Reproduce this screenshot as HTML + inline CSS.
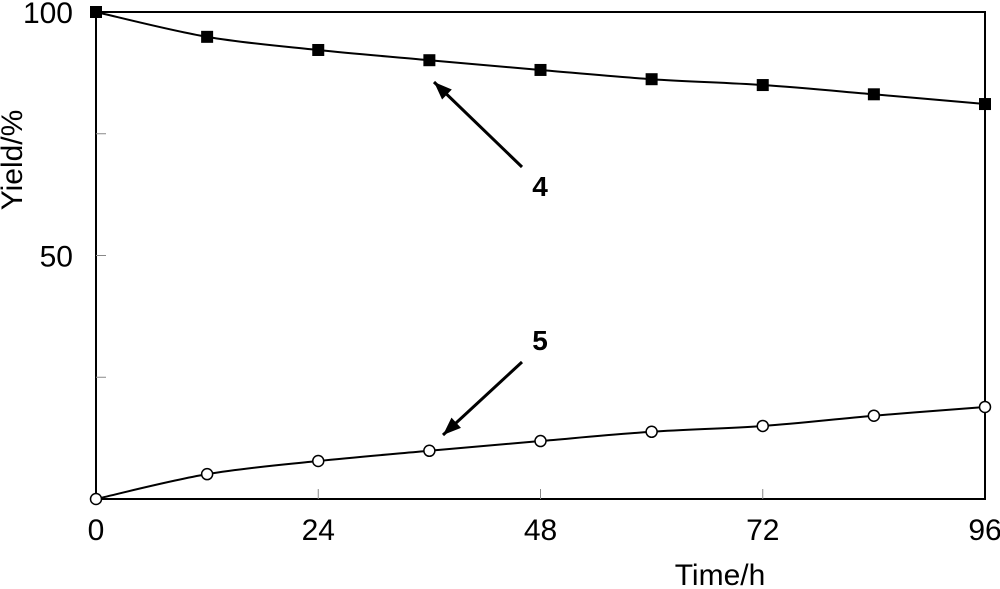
<!DOCTYPE html>
<html><head><meta charset="utf-8"><style>
html,body{margin:0;padding:0;background:#fff;}
svg{display:block;font-family:"Liberation Sans",Arial,sans-serif;}
</style></head><body>
<svg id="chart" width="1000" height="589" viewBox="0 0 1000 589">
<g id="plot"></g>
</svg>
<script>
const times = [0, 12, 24, 36, 48, 60, 72, 84, 96];
const yield4 = [100, 94.9, 92.2, 90.1, 88.1, 86.2, 85.0, 83.1, 81.1];
const yield5 = [0, 5.1, 7.8, 9.9, 11.9, 13.8, 15.0, 17.1, 18.9];
const xTicks = [0, 24, 48, 72, 96];
const yTicks = [50, 100];
const yMinor = [25, 75];

const L = 96, R = 985, T = 12, B = 499;
const xs = v => L + (v / 96) * (R - L);
const ys = v => B - (v / 100) * (B - T);
const NS = "http://www.w3.org/2000/svg";
const g = document.getElementById('plot');
function mk(tag, attrs, parent) {
  const e = document.createElementNS(NS, tag);
  for (const k in attrs) e.setAttribute(k, attrs[k]);
  (parent || g).appendChild(e);
  return e;
}
const frame = mk('rect', {x: L, y: T, width: R - L, height: B - T, fill: 'none', stroke: '#000', 'stroke-width': 2});


xTicks.forEach(v => {
  if (v > 0 && v < 96) {
    const t = mk('line', {x1: xs(v), x2: xs(v), y1: B, y2: B - 10, stroke: '#888', 'stroke-width': 1});
    
    
  }
  const lb = mk('text', {x: xs(v), y: 540, 'text-anchor': 'middle', 'font-size': 30, fill: '#000'});
  lb.textContent = v;
  
  
});
yMinor.forEach(v => {
  const t = mk('line', {x1: L, x2: L + 10, y1: ys(v), y2: ys(v), stroke: '#888', 'stroke-width': 1});
  
  
});
yTicks.forEach(v => {
  if (v === 50) {
    const t = mk('line', {x1: L, x2: L + 10, y1: ys(v), y2: ys(v), stroke: '#888', 'stroke-width': 1});
    
    
  }
  const lb = mk('text', {x: 73, y: ys(v) + 11, 'text-anchor': 'end', 'font-size': 30, fill: '#000'});
  lb.textContent = v;
  
  
});
const xt = mk('text', {x: 720, y: 585, 'text-anchor': 'middle', 'font-size': 30, fill: '#000'});
xt.textContent = 'Time/h';


const yt = mk('text', {x: 0, y: 0, 'text-anchor': 'middle', 'font-size': 30, fill: '#000', transform: 'translate(22,160) rotate(-90)'});
yt.textContent = 'Yield/%';



function smoothPath(vals) {
  const p = times.map((t, i) => [xs(t), ys(vals[i])]);
  let d = 'M' + p[0][0] + ',' + p[0][1];
  for (let i = 0; i < p.length - 1; i++) {
    const p0 = p[i - 1] || p[i], p1 = p[i], p2 = p[i + 1], p3 = p[i + 2] || p[i + 1];
    const c1 = [p1[0] + (p2[0] - p0[0]) / 6, p1[1] + (p2[1] - p0[1]) / 6];
    const c2 = [p2[0] - (p3[0] - p1[0]) / 6, p2[1] - (p3[1] - p1[1]) / 6];
    d += ' C' + c1 + ' ' + c2 + ' ' + p2;
  }
  return d;
}
const l4 = mk('path', {d: smoothPath(yield4), fill: 'none', stroke: '#000', 'stroke-width': 2});


const l5 = mk('path', {d: smoothPath(yield5), fill: 'none', stroke: '#000', 'stroke-width': 2});


times.forEach((t, i) => {
  const s = mk('rect', {x: xs(t) - 6, y: ys(yield4[i]) - 6, width: 12, height: 12, fill: '#000'});
  
  
  const c = mk('circle', {cx: xs(t), cy: ys(yield5[i]), r: 5.5, fill: '#fff', stroke: '#000', 'stroke-width': 1.5});
  
  
});
function arrow(x1, y1, x2, y2, name) {
  const a = mk('line', {x1, y1, x2, y2, stroke: '#000', 'stroke-width': 3});
  
  
  const ang = Math.atan2(y2 - y1, x2 - x1), L2 = 18, W = 7;
  const bx = x2 - L2 * Math.cos(ang), by = y2 - L2 * Math.sin(ang);
  const pts = [x2, y2, bx + W * Math.sin(ang), by - W * Math.cos(ang), bx - W * Math.sin(ang), by + W * Math.cos(ang)];
  const h = mk('polygon', {points: pts.join(','), fill: '#000'});
  
  
}
arrow(522, 167, 434, 82, 'arrow-4');
arrow(522, 362, 443, 435, 'arrow-5');
const t4 = mk('text', {x: 540, y: 196, 'text-anchor': 'middle', 'font-size': 28, 'font-weight': 'bold', fill: '#000'});
t4.textContent = '4';


const t5 = mk('text', {x: 540, y: 350, 'text-anchor': 'middle', 'font-size': 28, 'font-weight': 'bold', fill: '#000'});
t5.textContent = '5';


</script>
</body></html>
